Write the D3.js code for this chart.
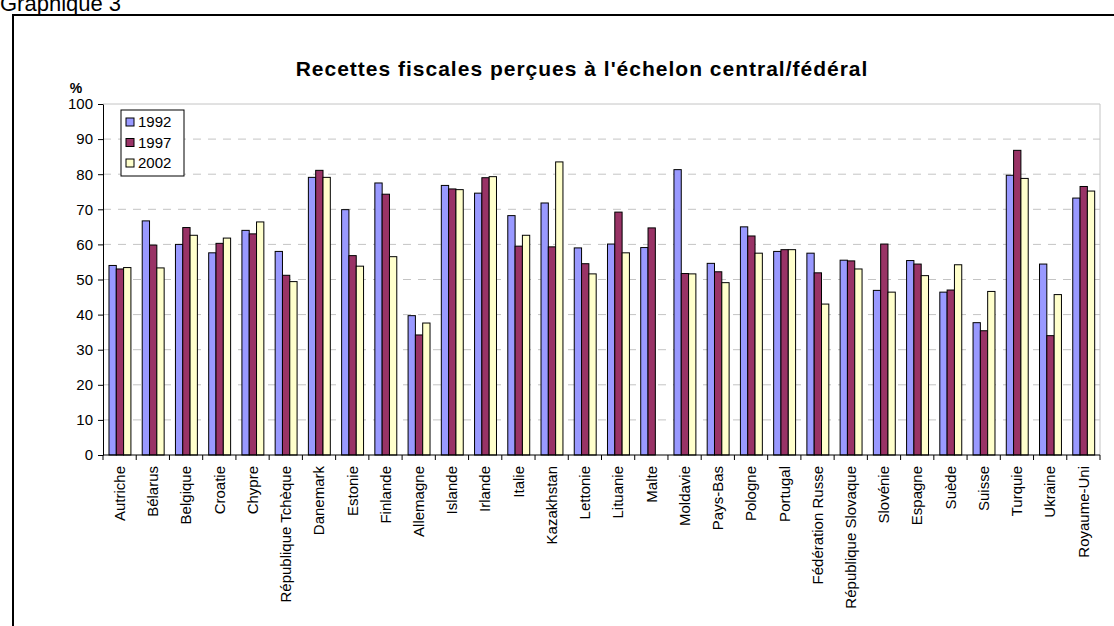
<!DOCTYPE html>
<html>
<head>
<meta charset="utf-8">
<script src="https://cdn.jsdelivr.net/npm/d3@7"></script>
<style>
  body { margin: 0; background: #fff; }
  svg { display: block; font-family: Arial, "Liberation Sans", sans-serif; }
</style>
</head>
<body>
<svg width="1114" height="626"></svg>
<script>
// data
const countries = ['Autriche', 'Bélarus', 'Belgique', 'Croatie', 'Chypre', 'République Tchèque',
  'Danemark', 'Estonie', 'Finlande', 'Allemagne', 'Islande', 'Irlande', 'Italie', 'Kazakhstan',
  'Lettonie', 'Lituanie', 'Malte', 'Moldavie', 'Pays-Bas', 'Pologne', 'Portugal',
  'Fédération Russe', 'République Slovaque', 'Slovénie', 'Espagne', 'Suède', 'Suisse',
  'Turquie', 'Ukraine', 'Royaume-Uni'];
const years = ['1992', '1997', '2002'];
const v1992 = [54.0, 66.7, 60.0, 57.6, 64.0, 58.0, 79.1, 69.9, 77.5, 39.7, 76.8, 74.6, 68.2, 71.8,
  59.0, 60.1, 59.1, 81.3, 54.6, 65.0, 58.0, 57.5, 55.5, 46.9, 55.4, 46.4, 37.7, 79.7, 54.4, 73.2];
const v1997 = [53.0, 59.8, 64.8, 60.3, 63.0, 51.2, 81.1, 56.8, 74.3, 34.2, 75.8, 79.0, 59.5, 59.3,
  54.5, 69.2, 64.7, 51.7, 52.2, 62.4, 58.5, 51.9, 55.3, 60.1, 54.4, 47.0, 35.4, 86.8, 34.0, 76.5];
const v2002 = [53.4, 53.3, 62.6, 61.8, 66.4, 49.4, 79.1, 53.8, 56.5, 37.6, 75.6, 79.3, 62.6, 83.5,
  51.6, 57.6, null, 51.6, 49.1, 57.5, 58.5, 43.0, 53.0, 46.4, 51.1, 54.2, 46.6, 78.8, 45.7, 75.2];
const yTicks = [0, 10, 20, 30, 40, 50, 60, 70, 80, 90, 100];

const series = [v1992, v1997, v2002];
const colors = ['#9999ff', '#993366', '#ffffcc'];

const svg = d3.select('svg');
const plot = { left: 103, right: 1100, top: 104, bottom: 455 };

// outer frame (runs off the right and bottom of the picture)
svg.append('rect')
  .attr('x', 13).attr('y', 15)
  .attr('width', 1200).attr('height', 700)
  .attr('fill', 'none').attr('stroke', '#000').attr('stroke-width', 2);

svg.append('text')
  .attr('x', 0).attr('y', 11)
  .style('font-size', '22px')
  .text('Graphique 3');

let x = d3.scaleBand()
  .domain(countries)
  .range([plot.left, plot.right]);

let xInner = d3.scaleBand()
  .domain(years)
  .range([x.bandwidth() * 0.18, x.bandwidth() * 0.84]);

let y = d3.scaleLinear()
  .domain([0, 100])
  .range([plot.bottom, plot.top]);

// grid
svg.append('g')
  .selectAll('line')
  .data(yTicks.filter(t => t > 0 && t < 100))
  .enter().append('line')
  .attr('x1', plot.left).attr('x2', plot.right)
  .attr('y1', d => y(d)).attr('y2', d => y(d))
  .attr('stroke', '#c4c4c4')
  .attr('stroke-dasharray', '8,7');

// plot area border top/right
svg.append('path')
  .attr('d', `M${plot.left},${y(100)}H${plot.right}V${plot.bottom}`)
  .attr('fill', 'none')
  .attr('stroke', '#c4c4c4')
  .attr('stroke-width', 1);

// bars
const groups = svg.append('g')
  .selectAll('g')
  .data(countries)
  .enter().append('g')
  .attr('transform', d => `translate(${x(d)},0)`);

groups.selectAll('rect')
  .data((c, i) => series.map((s, k) => ({ year: years[k], value: s[i], color: colors[k] }))
    .filter(d => d.value !== null))
  .enter().append('rect')
  .attr('x', d => xInner(d.year))
  .attr('width', xInner.bandwidth())
  .attr('y', d => y(d.value))
  .attr('height', d => y(0) - y(d.value))
  .attr('fill', d => d.color)
  .attr('stroke', '#000')
  .attr('stroke-width', 1);

// y axis
let yAxis = d3.axisLeft(y)
  .tickValues(yTicks)
  .tickSize(5)
  .tickSizeOuter(0)
  .tickPadding(5);
const yG = svg.append('g')
  .attr('transform', `translate(${plot.left},0)`)
  .call(yAxis);
yG.selectAll('text').style('font-size', '15px').attr('fill', '#000');
yG.selectAll('line, path').attr('stroke', '#000');

// x axis line and ticks between categories
svg.append('line')
  .attr('x1', plot.left).attr('x2', plot.right)
  .attr('y1', y(0)).attr('y2', y(0))
  .attr('stroke', '#000');
svg.append('g')
  .selectAll('line')
  .data(countries.map(c => x(c)).concat([x.range()[1]]))
  .enter().append('line')
  .attr('x1', d => d).attr('x2', d => d)
  .attr('y1', y(0)).attr('y2', y(0) + 5)
  .attr('stroke', '#000');

svg.append('g')
  .selectAll('text')
  .data(countries)
  .enter().append('text')
  .attr('transform', d => `translate(${x(d) + x.bandwidth() / 2},${y(0) + 11}) rotate(-90)`)
  .attr('text-anchor', 'end')
  .attr('dy', '0.35em')
  .style('font-size', '15px')
  .text(d => d);

// titles
svg.append('text')
  .attr('x', 582).attr('y', 76)
  .attr('text-anchor', 'middle')
  .style('font-size', '21px')
  .style('font-weight', 'bold')
  .style('letter-spacing', '1px')
  .text("Recettes fiscales perçues à l'échelon central/fédéral");

svg.append('text')
  .attr('x', 76).attr('y', 93)
  .attr('text-anchor', 'middle')
  .style('font-size', '14px')
  .style('font-weight', 'bold')
  .text('%');

// legend
const legend = svg.append('g').attr('transform', 'translate(121,110)');
legend.append('rect')
  .attr('width', 63).attr('height', 66)
  .attr('fill', '#fff').attr('stroke', '#000');
const items = legend.selectAll('g')
  .data(years)
  .enter().append('g')
  .attr('transform', (d, i) => `translate(5,${12 + i * 20.5})`);
items.append('rect')
  .attr('x', 0).attr('y', -4)
  .attr('width', 8).attr('height', 8)
  .attr('fill', (d, i) => colors[i])
  .attr('stroke', '#000');
items.append('text')
  .attr('x', 12).attr('dy', '0.35em')
  .style('font-size', '15px')
  .text(d => d);
</script>
</body>
</html>
